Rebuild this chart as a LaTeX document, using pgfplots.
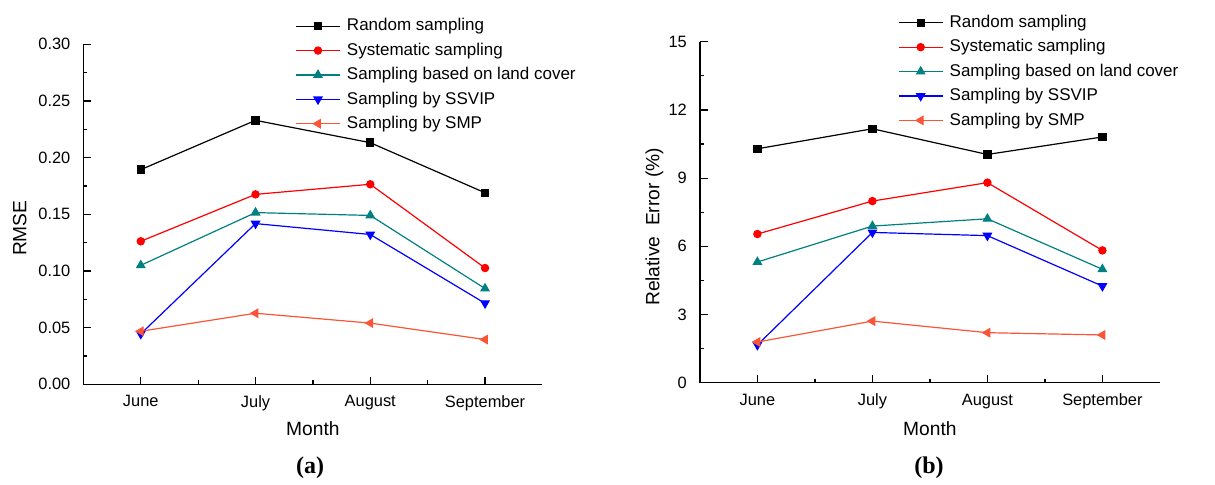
\documentclass[border=0pt]{standalone}
\usepackage{fontspec}
\setmainfont{Liberation Sans}
\newfontfamily\timesfont{Liberation Serif}
\usepackage{pgfplots}
\pgfplotsset{compat=1.18}
\definecolor{cteal}{RGB}{0,128,128}
\definecolor{csmp}{RGB}{250,85,55}
\pgfplotsset{
  common/.style={
    scale only axis,
    anchor=south west,
    axis x line=bottom, axis y line=left,
    axis line style={-, line width=0.6pt},
    tick align=inside,
    xmin=-0.5, xmax=3.5,
    xtick={0,1,2,3},
    xticklabels={June,July,August,September},
    minor xtick={0.5,1.5,2.5},
    minor y tick num=1,
    major tick length=3.8pt, minor tick length=2pt,
    tick style={line width=0.6pt, black},
    /pgf/number format/assume math mode=true,
    tick label style={font=\fontsize{8.2}{9}\selectfont},
    xticklabel style={yshift=-2pt},
    yticklabel style={xshift=-3pt},
    label style={font=\fontsize{9.6}{11}\selectfont},
    legend cell align=left,
    legend style={draw=none, fill=none, inner sep=0pt, column sep=3.2pt, row sep=3.9pt,
      font=\fontsize{8.5}{10}\selectfont,
      nodes={inner sep=0pt, text height=6.5pt, text depth=1.8pt}},
    legend image code/.code={\draw[mark repeat=2,mark phase=2,#1] plot coordinates {(0pt,0pt) (11pt,0pt) (22pt,0pt)};},
    every axis plot/.append style={line width=0.6pt},
  },
  s1/.style={black, mark=square*, mark size=1.8pt, mark options={solid}},
  s2/.style={red, mark=*, mark size=1.8pt},
  s3/.style={cteal, mark=triangle*, mark size=2.3pt},
  s4/.style={blue, mark=triangle*, mark size=2.3pt, mark options={rotate=180}},
  s5/.style={csmp, mark=triangle*, mark size=2.3pt, mark options={rotate=90}},
}
\begin{document}
\begin{tikzpicture}
\useasboundingbox (0,0) rectangle (607.5pt,242pt);
\begin{axis}[common,
  at={(41.7pt,49.85pt)}, width=229.5pt, height=170pt,
  ymin=0, ymax=0.30,
  ytick={0,0.05,0.10,0.15,0.20,0.25,0.30},
  yticklabel style={/pgf/number format/.cd, fixed, fixed zerofill, precision=2},
  xlabel={Month}, ylabel={RMSE},
  xlabel style={at={(axis description cs:0.5,0)}, anchor=center, yshift=-22.4pt},
  ylabel style={at={(axis description cs:-0.1386,0.459)}, anchor=center},
  legend style={at={(rel axis cs:0.461,1.079)}, anchor=north west},
]
\addplot[s1] coordinates {(0,0.1894) (1,0.2329) (2,0.2132) (3,0.1690)};
\addlegendentry{Random sampling}
\addplot[s2] coordinates {(0,0.1262) (1,0.1676) (2,0.1765) (3,0.1026)};
\addlegendentry{Systematic sampling}
\addplot[s3] coordinates {(0,0.1050) (1,0.1515) (2,0.1490) (3,0.0845)};
\addlegendentry{Sampling based on land cover}
\addplot[s4] coordinates {(0,0.0445) (1,0.1418) (2,0.1322) (3,0.0715)};
\addlegendentry{Sampling by SSVIP}
\addplot[s5] coordinates {(0,0.0468) (1,0.0627) (2,0.0540) (3,0.0395)};
\addlegendentry{Sampling by SMP}
\end{axis}
\begin{axis}[common,
  at={(349.95pt,50.65pt)}, width=230pt, height=170.5pt,
  ymin=0, ymax=15,
  ytick={0,3,6,9,12,15},
  xlabel={Month}, ylabel={Relative\ \ Error (\%)},
  xlabel style={at={(axis description cs:0.5,0)}, anchor=center, yshift=-23.2pt},
  ylabel style={at={(axis description cs:-0.0987,0.457)}, anchor=center},
  legend style={at={(rel axis cs:0.43,1.081)}, anchor=north west},
]
\addplot[s1] coordinates {(0,10.29) (1,11.17) (2,10.04) (3,10.81)};
\addlegendentry{Random sampling}
\addplot[s2] coordinates {(0,6.54) (1,7.99) (2,8.80) (3,5.82)};
\addlegendentry{Systematic sampling}
\addplot[s3] coordinates {(0,5.31) (1,6.89) (2,7.21) (3,4.99)};
\addlegendentry{Sampling based on land cover}
\addplot[s4] coordinates {(0,1.66) (1,6.61) (2,6.47) (3,4.25)};
\addlegendentry{Sampling by SSVIP}
\addplot[s5] coordinates {(0,1.79) (1,2.71) (2,2.20) (3,2.10)};
\addlegendentry{Sampling by SMP}
\end{axis}
\node[font=\timesfont\bfseries\fontsize{12}{14}\selectfont] at (155pt,8pt) {(a)};
\node[font=\timesfont\bfseries\fontsize{12}{14}\selectfont] at (464.5pt,8pt) {(b)};
\end{tikzpicture}
\end{document}
